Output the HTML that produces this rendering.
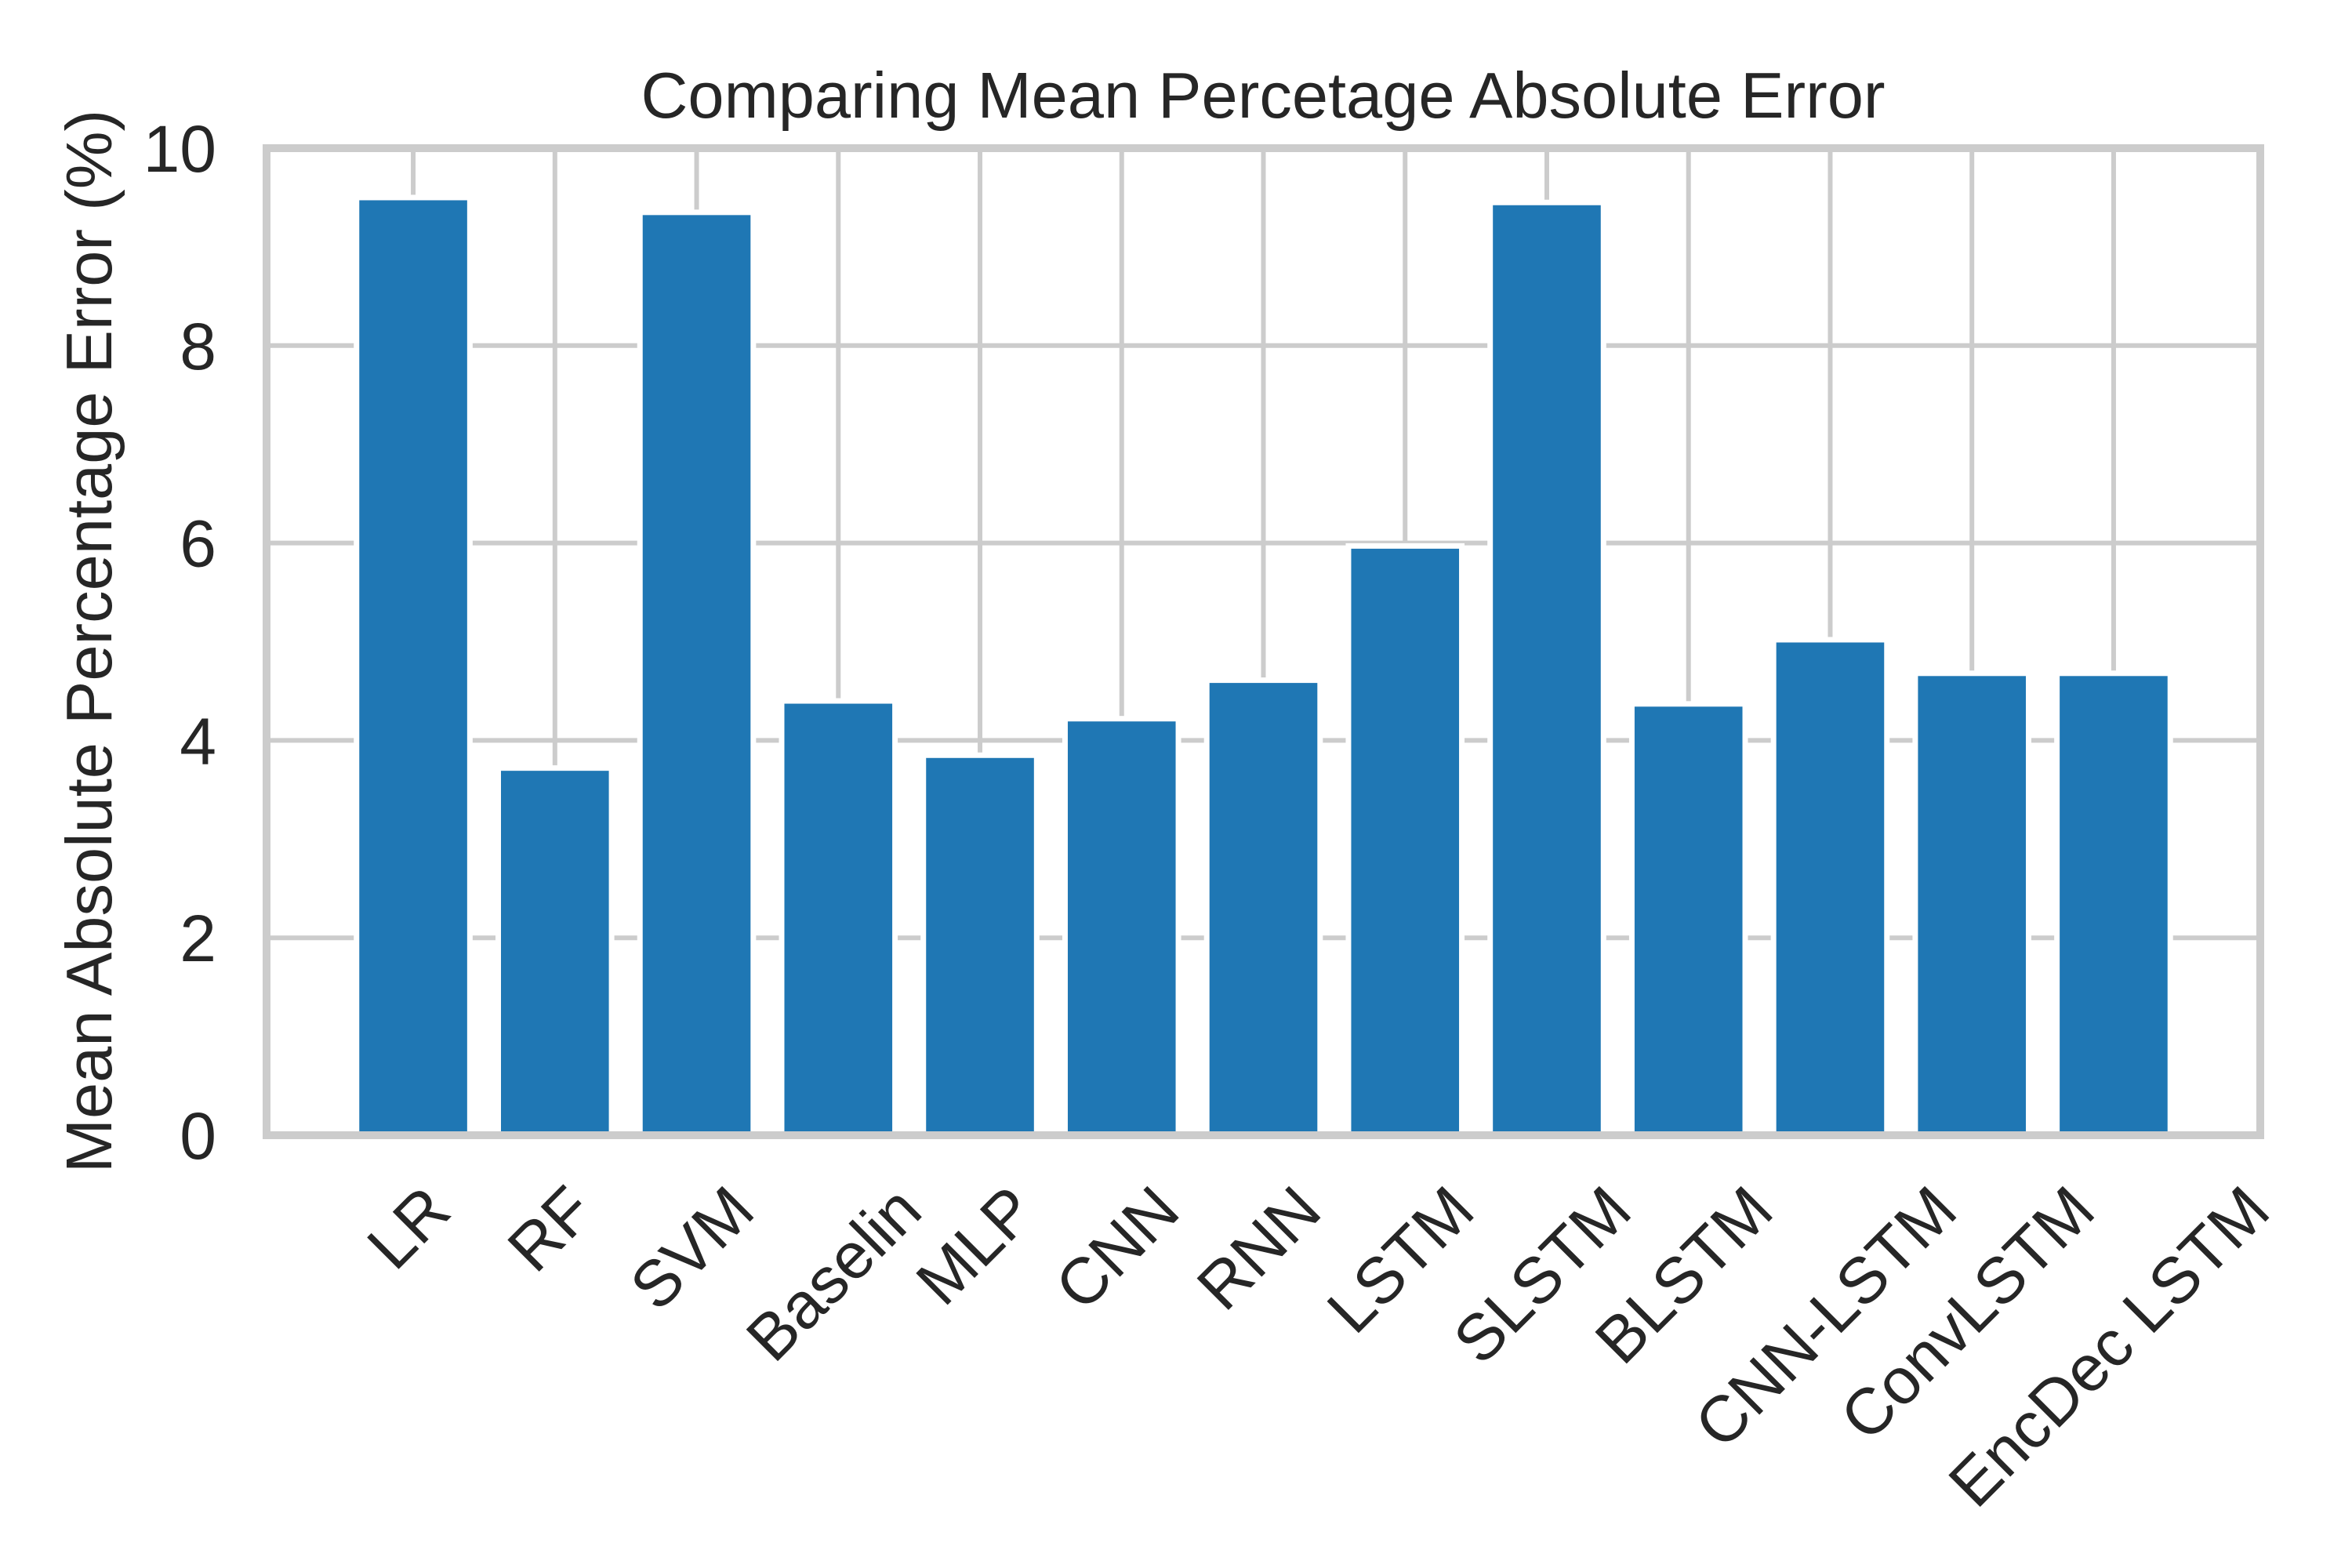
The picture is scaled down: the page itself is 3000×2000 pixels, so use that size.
<!DOCTYPE html>
<html><head><meta charset="utf-8"><style>
html,body{margin:0;padding:0;background:#fff;}
svg{display:block;}
text{font-family:"Liberation Sans",Arial,sans-serif;fill:#262626;}
</style></head>
<body>
<svg id="chart" width="3000" height="2000" viewBox="0 0 3000 2000" xmlns="http://www.w3.org/2000/svg">
<rect width="3000" height="2000" fill="#fff"/>
<g id="grid"></g>
<g id="bars"></g>
<g id="spines"></g>
<g id="yticks"></g>
<g id="xticks"></g>
<text x="1611" y="150" font-size="83" text-anchor="middle">Comparing Mean Percetage Absolute Error</text>
<text x="0" y="0" font-size="83" text-anchor="middle" transform="translate(142,818) rotate(-90)">Mean Absolute Percentage Error (%)</text>
</svg>
<script>
const categories = ["LR","RF","SVM","Baselin","MLP","CNN","RNN","LSTM","SLSTM","BLSTM","CNN-LSTM","ConvLSTM","EncDec LSTM"];
const mapeValues = [9.50,3.72,9.35,4.40,3.85,4.22,4.61,5.97,9.45,4.37,5.02,4.68,4.68];
const yTicks = [0,2,4,6,8,10];
const yTickLabels = ["0","2","4","6","8","10"];

const NS="http://www.w3.org/2000/svg";
const L=340,R=2883,T=189,B=1448;
const xMin=-1.035,xMax=categories.length-1+1.035,yMin=0,yMax=10;
function xs(v){return L+(v-xMin)/(xMax-xMin)*(R-L);}
function ys(v){return B-(v-yMin)/(yMax-yMin)*(B-T);}
function mk(tag,attrs,parent){const e=document.createElementNS(NS,tag);for(const k in attrs)e.setAttribute(k,attrs[k]);parent.appendChild(e);return e;}
const grid=document.getElementById('grid'),bars=document.getElementById('bars'),spines=document.getElementById('spines'),yt=document.getElementById('yticks'),xt=document.getElementById('xticks');
const step=(R-L)/(xMax-xMin);

yTicks.forEach((v,i)=>{
  const g=mk('line',{x1:L,x2:R,y1:ys(v),y2:ys(v),stroke:'#cccccc','stroke-width':6},grid);
  
  
  const t=mk('text',{x:276,y:ys(v)+30,'font-size':84,'text-anchor':'end'},yt);
  t.textContent=yTickLabels[i];
  
  
});
categories.forEach((c,i)=>{
  const g=mk('line',{x1:xs(i),x2:xs(i),y1:T,y2:B,stroke:'#cccccc','stroke-width':6},grid);
  
  
});
categories.forEach((c,i)=>{
  const w=0.8*step;
  const r=mk('rect',{x:xs(i)-w/2,y:ys(mapeValues[i]),width:w,height:ys(0)-ys(mapeValues[i]),fill:'#1f77b4',stroke:'#ffffff','stroke-width':7},bars);
  
  
  const t=mk('text',{x:0,y:0,'font-size':83,'text-anchor':'middle','dominant-baseline':'central'},xt);
  t.textContent=c;
  
  
  const tw=t.getComputedTextLength();
  const half=(tw+80)/(2*Math.SQRT2);
  t.setAttribute('transform','translate('+(xs(i)-6)+','+(1500+half)+') rotate(-45)');
});
const sp=mk('rect',{x:L,y:T,width:R-L,height:B-T,fill:'none',stroke:'#cccccc','stroke-width':10},spines);


</script>
</body></html>
